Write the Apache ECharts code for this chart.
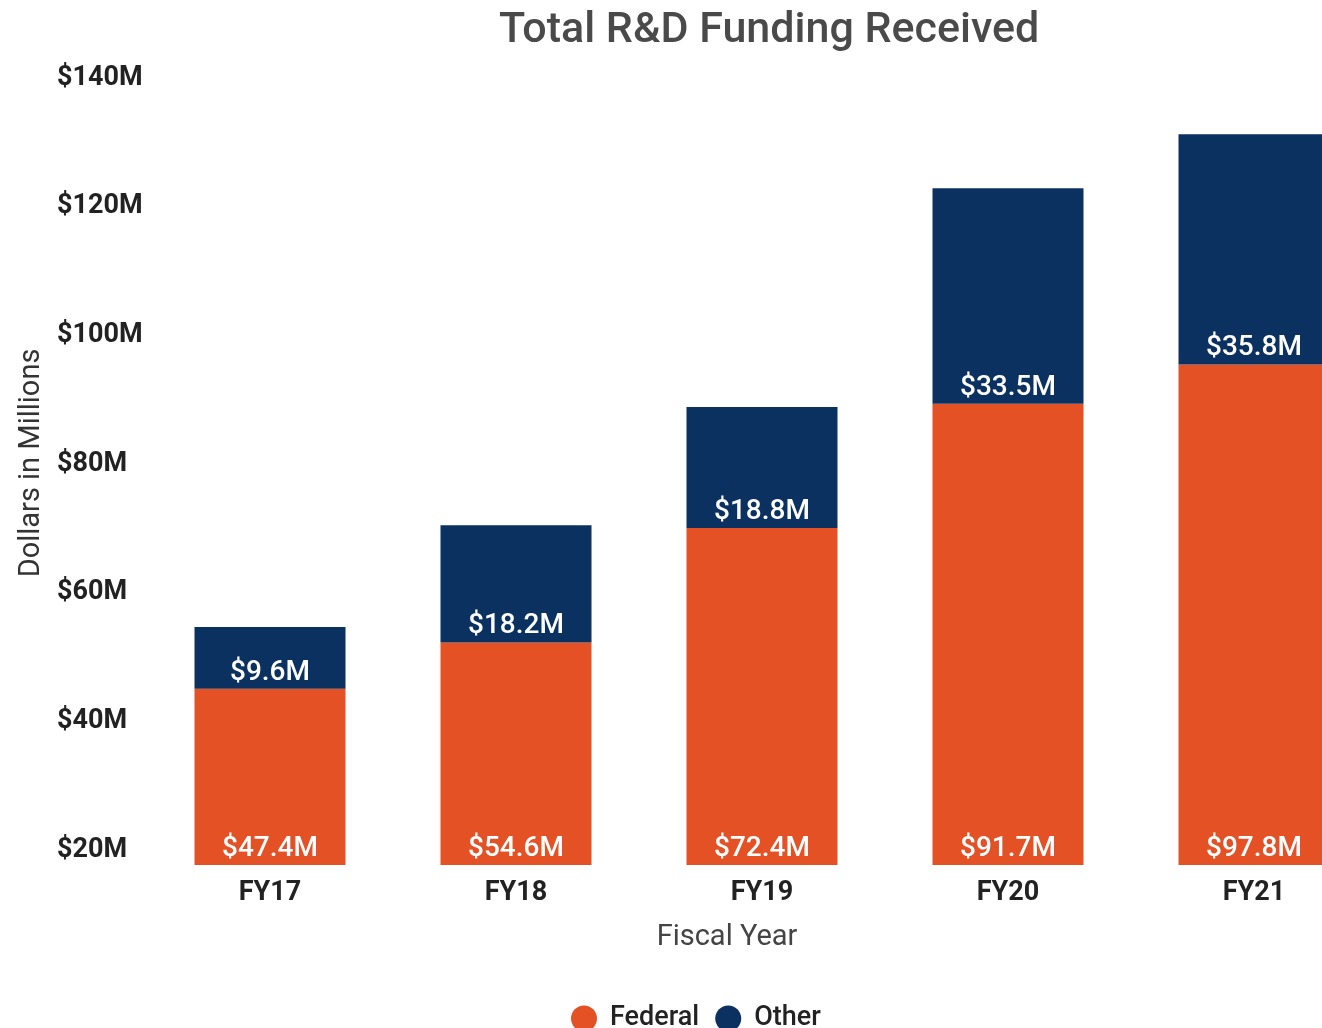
<!DOCTYPE html>
<html>
<head>
<meta charset="utf-8">
<title>Total R&amp;D Funding Received</title>
<script src="https://cdn.jsdelivr.net/npm/echarts@6/dist/echarts.min.js"></script>
<style>
  html, body { margin: 0; padding: 0; background: #fff; }
  #chart { width: 1322px; height: 1028px; }
</style>
</head>
<body>
<div id="chart"></div>
<script>
var years = ['FY17', 'FY18', 'FY19', 'FY20', 'FY21'];
var federal = [47.4, 54.6, 72.4, 91.7, 97.8];
var other = [9.6, 18.2, 18.8, 33.5, 35.8];

var FONT = 'Roboto';

function money(p) {
    return '$' + p.value.toFixed(1) + 'M';
}

var barLabel = {
    show: true,
    position: 'insideBottom',
    distance: 2,
    color: '#fff',
    fontFamily: FONT,
    fontSize: 28,
    fontWeight: 500,
    formatter: money
};

var myChart = echarts.init(document.getElementById('chart'));
var option = {
    backgroundColor: '#fff',
    animation: false,
    title: {
        text: 'Total R&D Funding Received',
        left: 494,
        top: 5,
        textStyle: { color: '#4a4a4a', fontFamily: FONT, fontSize: 43, fontWeight: 500 }
    },
    legend: {
        left: 566,
        top: 1000,
        icon: 'circle',
        itemWidth: 26,
        itemHeight: 26,
        itemGap: 16,
        textStyle: { color: '#222', fontFamily: FONT, fontSize: 27, fontWeight: 500, padding: [0, 0, 0, 8] },
        data: ['Federal', 'Other']
    },
    grid: {
        left: 147,
        top: 93,
        width: 1230,
        height: 772,
        outerBoundsMode: 'none'
    },
    xAxis: {
        type: 'category',
        data: years,
        name: 'Fiscal Year',
        nameLocation: 'middle',
        nameGap: 58,
        nameTextStyle: { color: '#444', fontFamily: FONT, fontSize: 29, padding: [0, 70, 0, 0] },
        axisLine: { show: false },
        axisTick: { show: false },
        axisLabel: { color: '#222', fontFamily: FONT, fontSize: 27, fontWeight: 'bold', margin: 15 }
    },
    yAxis: {
        type: 'value',
        min: 20,
        max: 140,
        interval: 20,
        name: 'Dollars in Millions',
        nameLocation: 'middle',
        nameGap: 100,
        nameTextStyle: { color: '#333', fontFamily: FONT, fontSize: 29, padding: [0, 0, 0, 32] },
        axisLine: { show: false },
        axisTick: { show: false },
        splitLine: { show: false },
        axisLabel: {
            color: '#222',
            fontFamily: FONT,
            fontSize: 27,
            fontWeight: 'bold',
            align: 'left',
            margin: 90,
            verticalAlign: 'bottom',
            lineHeight: 30,
            formatter: '${value}M'
        }
    },
    series: [
        {
            name: 'Federal',
            type: 'bar',
            stack: 'total',
            barWidth: 151,
            itemStyle: { color: '#E35125' },
            label: barLabel,
            data: federal
        },
        {
            name: 'Other',
            type: 'bar',
            stack: 'total',
            barWidth: 151,
            itemStyle: { color: '#0B3161' },
            label: barLabel,
            data: other
        }
    ]
};
myChart.setOption(option);
</script>
</body>
</html>
